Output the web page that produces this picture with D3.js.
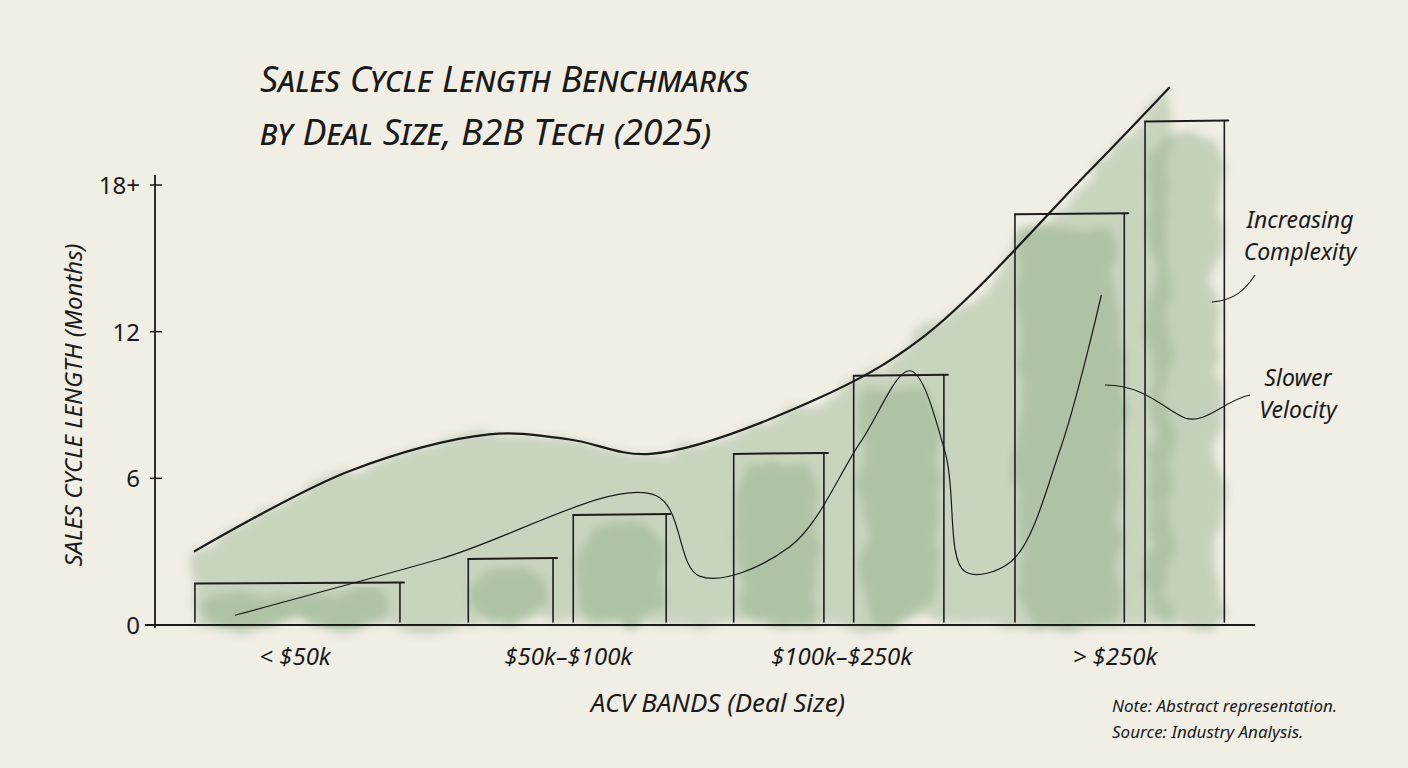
<!DOCTYPE html>
<html><head><meta charset="utf-8">
<script src="https://cdn.jsdelivr.net/npm/d3@7"></script>
<style>body{margin:0;background:#f1eee5}svg{display:block}</style>
</head><body><svg id="c" width="1408" height="768"></svg>
<script>
const categories=["< $50k","$50k–$100k","$100k–$250k","> $250k"];
const barBands=[0,1,1,2,2,3,3];
const barOffsets=[-0.366,-0.366,0.018,-0.395,0.044,-0.366,0.11];
const barWidths=[0.75,0.31,0.34,0.33,0.33,0.40,0.29];
const barValues=[1.7,2.7,4.5,7.0,10.2,16.8,20.6];
const trendX=[-0.37,0.2,0.71,1.0,1.3,1.9,2.3,2.9,3.2];
const trendY=[3.0,6.3,7.8,7.6,7.0,9.2,11.8,18.5,22.0];
const velX=[-0.22,0.53,1.32,1.48,1.81,2.07,2.25,2.38,2.45,2.62,2.80,2.95];
const velY=[0.4,2.7,5.3,2.0,3.2,7.5,10.4,7.0,2.2,2.6,7.2,13.5];
const yTicks=[0,6,12,18];
const yTickLabels=["0","6","12","18+"];

const svg=d3.select("#c");
const font="'Noto Sans',sans-serif";
const xb=d3.scaleLinear().domain([0,3]).range([295,1115]);
const y=d3.scaleLinear().domain([0,18]).range([625,185]);

const defs=svg.append("defs");
const f=defs.append("filter").attr("id","wc").attr("x","-20%").attr("y","-20%").attr("width","140%").attr("height","140%");
f.append("feTurbulence").attr("type","fractalNoise").attr("baseFrequency",0.02).attr("numOctaves",3).attr("result","n");
f.append("feDisplacementMap").attr("in","SourceGraphic").attr("in2","n").attr("scale",30).attr("result","d");
f.append("feGaussianBlur").attr("in","d").attr("stdDeviation",4);

const green="#8fae88";
const trendPts=trendX.map((v,i)=>[xb(v),y(trendY[i])]);
const area=d3.area().x(d=>d[0]).y0(y(0)).y1(d=>d[1]).curve(d3.curveCatmullRom);
svg.append("path").datum(trendPts).attr("d",area).attr("fill",green).attr("opacity",0.4).attr("filter","url(#wc)");
barValues.forEach((v,i)=>{
  const x0=xb(barBands[i]+barOffsets[i]), w=xb(barWidths[i])-xb(0);
  svg.append("rect").attr("x",x0+5).attr("y",y(v)+10).attr("width",w-10).attr("height",y(0)-y(v)-12)
   .attr("rx",25).attr("fill",green).attr("opacity",0.45).attr("filter","url(#wc)");
});
barValues.forEach((v,i)=>{
  const x0=xb(barBands[i]+barOffsets[i]), w=xb(barWidths[i])-xb(0);
  const g=svg.append("g").attr("stroke","#1d1d1d").attr("fill","none").attr("stroke-linecap","round");
  g.append("line").attr("x1",x0).attr("x2",x0).attr("y1",y(0)-3).attr("y2",y(v)).attr("stroke-width",1.6);
  g.append("line").attr("x1",x0+w).attr("x2",x0+w).attr("y1",y(0)-3).attr("y2",y(v)).attr("stroke-width",1.6);
  g.append("line").attr("x1",x0).attr("x2",x0+w+4).attr("y1",y(v)).attr("y2",y(v)-1).attr("stroke-width",2);
});
const line=d3.line().curve(d3.curveCatmullRom);
svg.append("path").attr("d",line(trendPts)).attr("fill","none").attr("stroke","#1a1a1a").attr("stroke-width",2.2);
svg.append("path").attr("d",line(velX.map((v,i)=>[xb(v),y(velY[i])]))).attr("fill","none").attr("stroke","#1a1a1a").attr("stroke-width",1.2);

svg.append("line").attr("x1",155).attr("x2",155).attr("y1",175).attr("y2",628).attr("stroke","#1a1a1a").attr("stroke-width",1.8);
svg.append("line").attr("x1",145).attr("x2",1255).attr("y1",y(0)).attr("y2",y(0)).attr("stroke","#1a1a1a").attr("stroke-width",1.8);
yTicks.forEach((t,i)=>{
  svg.append("line").attr("x1",150).attr("x2",162).attr("y1",y(t)).attr("y2",y(t)).attr("stroke","#1a1a1a").attr("stroke-width",1.5);
  svg.append("text").attr("x",140).attr("y",y(t)+9).attr("text-anchor","end").attr("font-family",font).attr("font-size",24).attr("fill","#1a1a1a").text(yTickLabels[i]);
});
categories.forEach((c,i)=>svg.append("text").attr("x",xb(i)).attr("y",665).attr("text-anchor","middle").attr("font-family",font).attr("font-style","italic").attr("font-size",24).attr("fill","#1a1a1a").text(c));
svg.append("text").attr("x",718).attr("y",712).attr("text-anchor","middle").attr("font-family",font).attr("font-style","italic").attr("font-size",26).attr("fill","#1a1a1a").text("ACV BANDS (Deal Size)");
svg.append("text").attr("transform","translate(82,405) rotate(-90)").attr("text-anchor","middle").attr("font-family",font).attr("font-style","italic").attr("font-size",24).attr("fill","#1a1a1a").text("SALES CYCLE LENGTH (Months)");
const t=svg.append("text").attr("font-family",font).attr("font-size",36).attr("fill","#1a1a1a").attr("font-style","italic").style("font-variant","small-caps");
t.append("tspan").attr("x",260).attr("y",92).text("Sales Cycle Length Benchmarks");
t.append("tspan").attr("x",260).attr("y",145).text("by Deal Size, B2B Tech (2025)");
[["Increasing",1300,228],["Complexity",1300,260],["Slower",1298,386],["Velocity",1298,418]].forEach(d=>
  svg.append("text").attr("x",d[1]).attr("y",d[2]).attr("text-anchor","middle").attr("font-family",font).attr("font-style","italic").attr("font-size",23).attr("fill","#1a1a1a").text(d[0]));
svg.append("path").attr("d","M1255,275 C1245,290 1235,300 1212,302").attr("fill","none").attr("stroke","#1a1a1a").attr("stroke-width",1.2);
svg.append("path").attr("d","M1250,395 C1225,400 1205,425 1185,418 C1165,410 1145,385 1105,385").attr("fill","none").attr("stroke","#1a1a1a").attr("stroke-width",1.2);
[["Note: Abstract representation.",712],["Source: Industry Analysis.",738]].forEach(d=>
  svg.append("text").attr("x",1112).attr("y",d[1]).attr("font-family",font).attr("font-style","italic").attr("font-size",17).attr("fill","#1a1a1a").text(d[0]));
</script></body></html>
